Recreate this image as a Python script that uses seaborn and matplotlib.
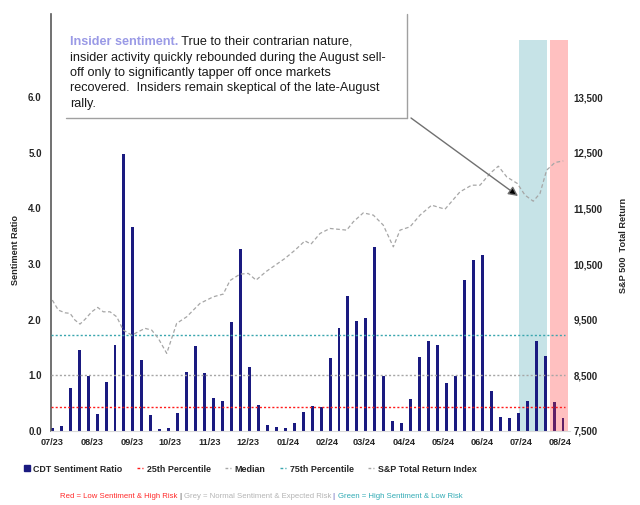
import numpy as np
import pandas as pd
import matplotlib
matplotlib.use("Agg")
import matplotlib.pyplot as plt
import seaborn as sns
from matplotlib.lines import Line2D
from matplotlib.patches import Rectangle

# weekly CDT sentiment ratio (Jul 2023 -> Aug 2024)
ratio = [0.04, 0.09, 0.76, 1.46, 0.99, 0.30, 0.87, 1.54, 4.98, 3.66,
         1.27, 0.28, 0.03, 0.05, 0.31, 1.06, 1.53, 1.03, 0.58, 0.53,
         1.95, 3.27, 1.15, 0.46, 0.10, 0.07, 0.05, 0.14, 0.33, 0.44,
         0.42, 1.30, 1.84, 2.43, 1.97, 2.02, 3.30, 0.99, 0.17, 0.13,
         0.57, 1.32, 1.62, 1.54, 0.85, 0.99, 2.71, 3.08, 3.17, 0.71,
         0.25, 0.23, 0.32, 0.53, 1.62, 1.35, 0.51, 0.23]

# S&P 500 total return index (x in weeks since 07/01/23)
sp_week = [0.0, 0.67, 1.42, 1.98, 2.53, 3.09, 3.65, 4.40, 5.07, 5.69,
           6.44, 7.19, 7.92, 8.86, 10.35, 11.09, 11.83, 12.77, 13.88, 15.0,
           16.48, 17.97, 19.08, 19.83, 20.95, 21.88, 22.74, 23.85, 25.97, 27.09,
           28.2, 28.87, 29.88, 30.99, 32.86, 33.59, 34.71, 35.83, 36.94, 38.06,
           38.81, 39.92, 41.04, 42.34, 43.83, 45.5, 46.8, 47.74, 48.85, 49.78,
           50.72, 51.9, 52.76, 53.68, 54.43, 55.17, 56.1, 57.03]
sp_index = [9851, 9671, 9622, 9612, 9491, 9419, 9504, 9640, 9719, 9640,
            9640, 9550, 9311, 9221, 9342, 9311, 9162, 8892, 9432, 9550,
            9791, 9910, 9959, 10202, 10318, 10331, 10210, 10363, 10601, 10750,
            10917, 10858, 11050, 11140, 11110, 11259, 11421, 11380, 11200, 10809,
            11110, 11169, 11380, 11559, 11487, 11799, 11919, 11919, 12130, 12261,
            12068, 11950, 11739, 11631, 11770, 12189, 12327, 12356]

pct_25 = 0.42
median = 1.00
pct_75 = 1.72

month_labels = ["07/23", "08/23", "09/23", "10/23", "11/23", "12/23", "01/24",
                "02/24", "03/24", "04/24", "05/24", "06/24", "07/24", "08/24"]

# shaded risk periods (in weeks)
green_zone = (52.1, 55.2)
red_zone = (55.5, 57.6)

NAVY = "#1a1a80"
GREY = "#a6a6a6"
RED = "#ff1a1a"
TEAL = "#3aa6ae"
TXT = "#262626"

sns.set_theme(style="white")
plt.rcParams["font.family"] = ["Liberation Sans", "DejaVu Sans"]

W, H = 640, 505
fig = plt.figure(figsize=(W / 100, H / 100), dpi=100)
ax = fig.add_axes([51 / W, 1 - 430.7 / H, (570 - 51) / W, (430.7 - 14) / H])

ymax_band = 7.03 / 7.5
ax.axvspan(*green_zone, ymin=0, ymax=ymax_band, color="#c6e3e7", lw=0, zorder=0)

df = pd.DataFrame({"week": np.arange(len(ratio)), "ratio": ratio})
sns.barplot(data=df, x="week", y="ratio", native_scale=True, width=0.33,
            color=NAVY, saturation=1, linewidth=0, ax=ax, zorder=2)

ax.axvspan(*red_zone, ymin=0, ymax=ymax_band, color="#ff3030", alpha=0.3, lw=0, zorder=3)

x0, x1 = -0.145, 57.78
for val, col in [(pct_25, RED), (median, GREY), (pct_75, TEAL)]:
    ax.hlines(val, x0, 57.2, colors=col, linestyles=(0, (1.5, 1.5)), lw=1, zorder=4)

ax.set_xlim(x0, x1)
ax.set_ylim(0, 7.5)
ax.set_yticks(np.arange(0, 7, 1.0))
ax.set_yticklabels([f"{v:.1f}" for v in np.arange(0, 7, 1.0)])

start = pd.Timestamp("2023-07-01")
month_dates = pd.to_datetime(month_labels, format="%m/%y")
ax.set_xticks((month_dates - start).days / 7)
ax.set_xticklabels(month_labels)
ax.set_xlabel("")
ax.set_ylabel("")
ax.tick_params(axis="both", length=0, labelsize=6.6, labelcolor=TXT)
ax.tick_params(axis="y", pad=6.7, labelsize=7)
ax.tick_params(axis="x", pad=5)
for lab in ax.get_xticklabels() + ax.get_yticklabels():
    lab.set_fontweight("bold")

for s in ["top", "right"]:
    ax.spines[s].set_visible(False)
ax.spines["left"].set_color("#595959")
ax.spines["left"].set_linewidth(1.2)
ax.spines["bottom"].set_color("#d9d9d9")
ax.spines["bottom"].set_linewidth(0.8)

# S&P on the right axis
ax2 = ax.twinx()
sns.lineplot(x=sp_week, y=sp_index, ax=ax2, color=GREY, lw=0.9,
             linestyle=(0, (3, 2)), estimator=None)
ax2.set_ylim(7500, 15000)
ax2.set_xlim(x0, x1)
rticks = np.arange(7500, 14500, 1000)
ax2.set_yticks(rticks)
ax2.set_yticklabels([f"{v:,}" for v in rticks])
ax2.tick_params(axis="y", length=0, pad=2.4, labelsize=7, labelcolor=TXT)
for lab in ax2.get_yticklabels():
    lab.set_fontweight("bold")
for s in ax2.spines.values():
    s.set_visible(False)

fig.text(15 / W, 1 - 250 / H, "Sentiment Ratio", rotation=90, ha="center", va="center",
         fontsize=6.6, fontweight="bold", color=TXT)
fig.text(623 / W, 1 - 245 / H, "S&P 500  Total Return", rotation=90, ha="center", va="center",
         fontsize=6.6, fontweight="bold", color=TXT)

# commentary box
ftr = fig.transFigure
ax2.add_patch(Rectangle((66 / W, 1 - 118 / H), (407 - 66) / W, (118 - 14) / H,
                        transform=ftr, fc="white", ec="none", clip_on=False, zorder=10))
ax2.add_line(Line2D([407 / W, 407 / W], [1 - 14 / H, 1 - 118 / H], transform=ftr,
                    color="#a0a0a0", lw=1, clip_on=False, zorder=11))
ax2.add_line(Line2D([66 / W, 407 / W], [1 - 118 / H, 1 - 118 / H], transform=ftr,
                    color="#a0a0a0", lw=1, clip_on=False, zorder=11))

fs_note = 9.1
t1 = ax2.text(70 / W, 1 - 45 / H, "Insider sentiment.", transform=ftr, fontsize=fs_note,
              fontweight="bold", color="#9a9ae6", va="baseline", ha="left", zorder=12, clip_on=False)
ax2.annotate(" True to their contrarian nature,", xy=(1, 0), xycoords=t1, va="bottom", ha="left",
             fontsize=fs_note, color="#1a1a1a", zorder=12, annotation_clip=False)
note_lines = ["insider activity quickly rebounded during the August sell-",
              "off only to significantly tapper off once markets",
              "recovered.  Insiders remain skeptical of the late-August",
              "rally."]
for i, line in enumerate(note_lines):
    ax2.text(70 / W, 1 - (60.5 + 15.5 * i) / H, line, transform=ftr, fontsize=fs_note,
             color="#1a1a1a", va="baseline", ha="left", zorder=12, clip_on=False)

ax2.annotate("", xy=(518 / W, 1 - 196 / H), xycoords="figure fraction",
             xytext=(411 / W, 1 - 118 / H), textcoords="figure fraction",
             arrowprops=dict(arrowstyle="-|>", ec="#707070", fc="black", lw=1,
                             mutation_scale=14, shrinkA=0, shrinkB=0),
             annotation_clip=False, zorder=12)

# legend
dash = (0, (2, 1.5))
handles = [Line2D([], [], marker="s", ls="none", color=NAVY, markersize=4.5),
           Line2D([], [], color=RED, lw=1, ls=dash),
           Line2D([], [], color=GREY, lw=1, ls=dash),
           Line2D([], [], color=TEAL, lw=1, ls=dash),
           Line2D([], [], color=GREY, lw=1, ls=dash)]
labels = ["CDT Sentiment Ratio", "25th Percentile", "Median", "75th Percentile",
          "S&P Total Return Index"]
leg = fig.legend(handles, labels, loc="center", bbox_to_anchor=(250 / W, 1 - 469 / H),
                 ncol=5, frameon=False, prop=dict(weight="bold", size=6.4),
                 handlelength=0.7, handletextpad=0.4, columnspacing=1.6)
for t in leg.get_texts():
    t.set_color(TXT)

# colour-key caption
segments = [("Red = Low Sentiment & High Risk ", "#ff2a2a"),
            ("| ", "#404040"),
            ("Grey = Normal Sentiment & Expected Risk ", "#b4b4b4"),
            ("| ", "#5050b0"),
            ("Green = High Sentiment & Low Risk", "#30aab4")]
prev = fig.text(60 / W, 1 - 496 / H, segments[0][0], fontsize=5.55, color=segments[0][1],
                va="center", ha="left")
for txt, col in segments[1:]:
    ann = ax2.annotate(txt, xy=(1, 0), xycoords=prev, va="bottom", ha="left",
                       fontsize=5.55, color=col, annotation_clip=False)
    prev = ann

fig.savefig("out.png", dpi=100)
